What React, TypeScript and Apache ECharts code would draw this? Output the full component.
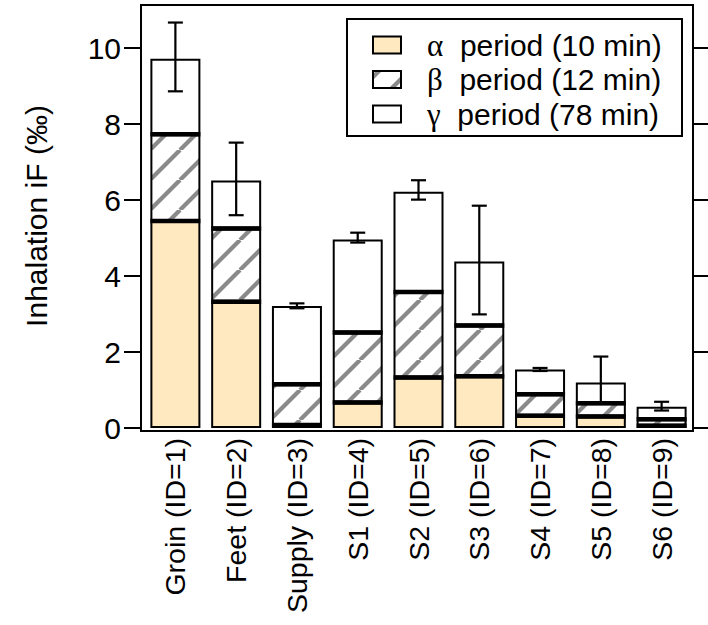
import React, { useEffect, useRef } from "react";
import * as echarts from "echarts";

const categories = ["Groin (ID=1)", "Feet (ID=2)", "Supply (ID=3)", "S1 (ID=4)", "S2 (ID=5)", "S3 (ID=6)", "S4 (ID=7)", "S5 (ID=8)", "S6 (ID=9)"];
const alphaValues = [5.45, 3.32, 0.08, 0.67, 1.33, 1.36, 0.32, 0.3, 0.06];
const betaValues = [2.28, 1.93, 1.07, 1.84, 2.25, 1.34, 0.57, 0.35, 0.17];
const gammaValues = [1.99, 1.26, 2.06, 2.45, 2.64, 1.68, 0.65, 0.55, 0.33];
const errorLow = [8.86, 5.6, 3.15, 4.88, 6.01, 2.99, 1.5, 0.68, 0.46];
const errorHigh = [10.67, 7.51, 3.28, 5.14, 6.52, 5.85, 1.58, 1.88, 0.69];
const yTicks = [0, 2, 4, 6, 8, 10];
const legendNames = ["period (10 min)", "period (12 min)", "period (78 min)"];
const legendGreek = ["α", "β", "γ"];

const FONT = "Liberation Sans, Arial, sans-serif";
const ALPHA_COLOR = "#FFE9C0";

function makeHatch(): HTMLCanvasElement {
  const s = 30;
  const c = document.createElement("canvas");
  c.width = s;
  c.height = s;
  const ctx = c.getContext("2d")!;
  ctx.fillStyle = "#ffffff";
  ctx.fillRect(0, 0, s, s);
  ctx.strokeStyle = "#8a8a8a";
  ctx.lineWidth = 4.2;
  for (let k = -1; k <= 1; k++) {
    ctx.beginPath();
    ctx.moveTo(k * s, s);
    ctx.lineTo(k * s + s, 0);
    ctx.stroke();
  }
  return c;
}

export default function App() {
  const ref = useRef<HTMLDivElement>(null);
  useEffect(() => {
    if (!ref.current) return;
    document.body.style.margin = "0";
    const chart = echarts.init(ref.current, undefined, { renderer: "svg" });
    const hatch = makeHatch();
    const hatchFill: any = { image: hatch, repeat: "repeat", imageWidth: 30, imageHeight: 30 };
    const alphaTop = alphaValues.slice();
    const betaTop = alphaValues.map((a, i) => a + betaValues[i]);

    const barStyle = { borderColor: "#000", borderWidth: 2 };

    const option: any = {
      animation: false,
      grid: { left: 145, right: 16, top: 48, bottom: 197 },
      xAxis: {
        type: "category",
        data: categories,
        axisLine: { show: false },
        axisTick: { show: false },
        axisLabel: {
          rotate: 90,
          margin: 10,
          fontFamily: FONT,
          fontSize: 28.5,
          color: "#000",
          interval: 0,
        },
      },
      yAxis: [
        {
          type: "value",
          min: 0,
          max: 10,
          interval: 2,
          position: "left",
          offset: 4,
          splitLine: { show: false },
          axisLine: { show: false },
          axisTick: { show: true, length: 17, lineStyle: { color: "#000", width: 2 } },
          axisLabel: {
            fontFamily: FONT,
            fontSize: 30,
            color: "#000",
            margin: 20,
            formatter: (v: number) => (yTicks.includes(v) ? String(v) : ""),
          },
        },
        {
          type: "value",
          min: 0,
          max: 10,
          interval: 2,
          position: "right",
          offset: 1,
          splitLine: { show: false },
          axisLine: { show: false },
          axisTick: { show: true, length: 15, lineStyle: { color: "#000", width: 2 } },
          axisLabel: { show: false },
        },
      ],
      series: [
        {
          name: "alpha",
          type: "bar",
          stack: "s",
          data: alphaValues,
          barWidth: 50,
          itemStyle: { color: ALPHA_COLOR, ...barStyle },
        },
        {
          name: "beta",
          type: "bar",
          stack: "s",
          data: betaValues,
          barWidth: 50,
          itemStyle: { color: hatchFill, ...barStyle },
        },
        {
          name: "gamma",
          type: "bar",
          stack: "s",
          data: gammaValues,
          barWidth: 50,
          itemStyle: { color: "#ffffff", ...barStyle },
        },
        {
          name: "separators",
          type: "custom",
          data: categories.map((_, i) => [i, alphaTop[i], betaTop[i]]),
          renderItem: (params: any, api: any) => {
            const i = api.value(0);
            const hw = 25;
            const p1 = api.coord([i, api.value(1)]);
            const p2 = api.coord([i, api.value(2)]);
            const style = { stroke: "#000", lineWidth: 4.5 };
            return {
              type: "group",
              children: [
                { type: "line", shape: { x1: p1[0] - hw, y1: p1[1], x2: p1[0] + hw, y2: p1[1] }, style },
                { type: "line", shape: { x1: p2[0] - hw, y1: p2[1], x2: p2[0] + hw, y2: p2[1] }, style },
              ],
            };
          },
          z: 5,
        },
        {
          name: "errors",
          type: "custom",
          clip: false,
          data: categories.map((_, i) => [i, errorLow[i], errorHigh[i]]),
          renderItem: (params: any, api: any) => {
            const i = api.value(0);
            const lo = api.coord([i, api.value(1)]);
            const hi = api.coord([i, api.value(2)]);
            const cw = 7.5;
            const style = { stroke: "#000", lineWidth: 2.2 };
            return {
              type: "group",
              children: [
                { type: "line", shape: { x1: lo[0], y1: lo[1], x2: hi[0], y2: hi[1] }, style },
                { type: "line", shape: { x1: lo[0] - cw, y1: lo[1], x2: lo[0] + cw, y2: lo[1] }, style },
                { type: "line", shape: { x1: hi[0] - cw, y1: hi[1], x2: hi[0] + cw, y2: hi[1] }, style },
              ],
            };
          },
          z: 6,
        },
      ],
      graphic: [
        {
          type: "rect",
          shape: { x: 141, y: 5, width: 552, height: 426 },
          style: { fill: "none", stroke: "#000", lineWidth: 2 },
          z: 10,
        },
        {
          type: "text",
          x: 36,
          y: 216,
          rotation: Math.PI / 2,
          style: {
            text: "Inhalation iF (‰)",
            font: `30px ${FONT}`,
            fill: "#000",
            align: "center",
            verticalAlign: "middle",
          },
        },
        {
          type: "rect",
          shape: { x: 347, y: 19, width: 335, height: 117 },
          style: { fill: "#fff", stroke: "#000", lineWidth: 2 },
          z: 20,
        },
        ...legendNames.flatMap((name, k) => {
          const cy = 45 + k * 34.5;
          const fills = [ALPHA_COLOR, hatchFill, "#ffffff"];
          return [
            {
              type: "rect",
              shape: { x: 373, y: cy - 8.5, width: 28, height: 17 },
              style: { fill: fills[k], stroke: "#000", lineWidth: 2 },
              z: 21,
            },
            {
              type: "text",
              x: 427,
              y: cy,
              style: {
                text: `{g|${legendGreek[k]}}  ${name}`,
                rich: {
                  g: { fontFamily: "Liberation Serif, Times New Roman, serif", fontSize: 31, fill: "#000" },
                },
                font: `30px ${FONT}`,
                fill: "#000",
                verticalAlign: "middle",
              },
              z: 21,
            },
          ];
        }),
      ],
    };
    chart.setOption(option);
    return () => chart.dispose();
  }, []);
  return <div ref={ref} style={{ width: 708, height: 625 }} />;
}
